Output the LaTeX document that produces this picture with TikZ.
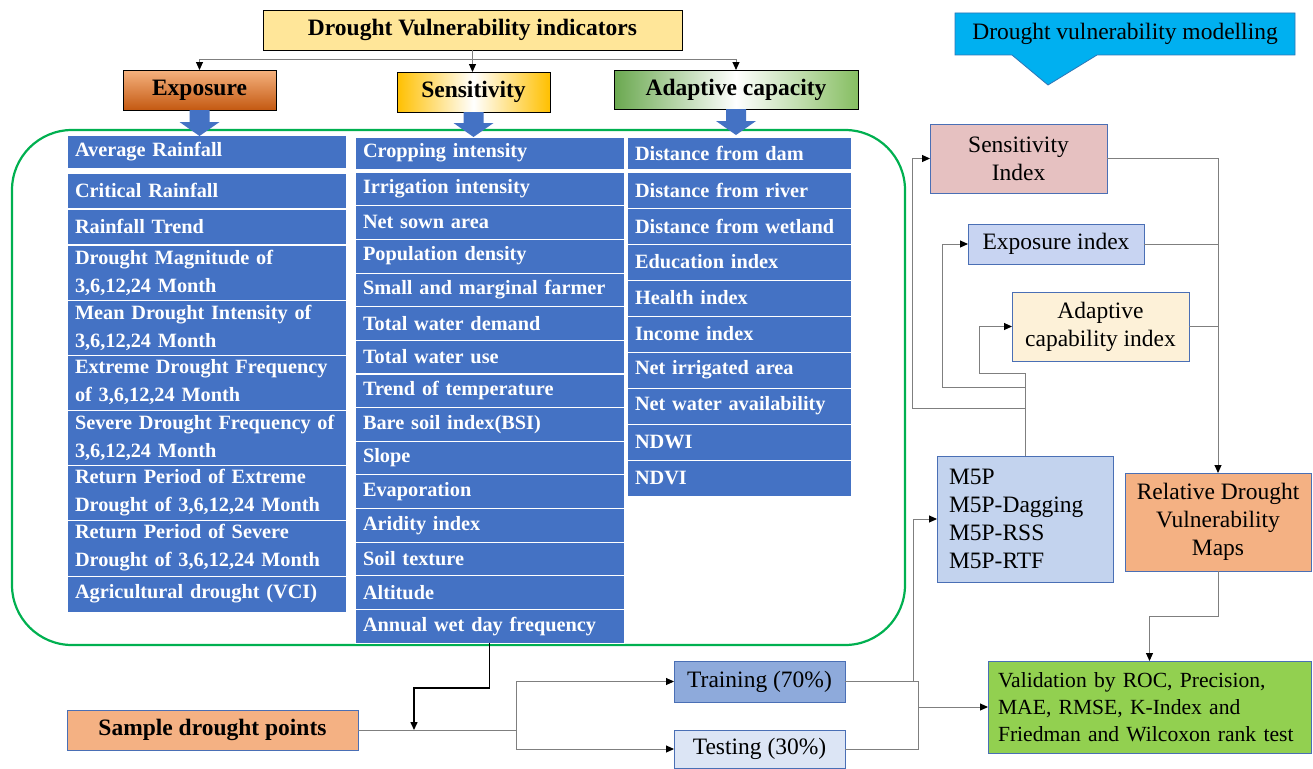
\documentclass[tikz,border=0pt]{standalone}
\usepackage{fontspec}
\setmainfont{Liberation Serif}
\usepackage{xcolor}
\usetikzlibrary{arrows.meta, positioning, calc}

\definecolor{hdryellow}{HTML}{FFE699}
\definecolor{expotop}{HTML}{F5B27F}
\definecolor{expobot}{HTML}{C45911}
\definecolor{sensgold}{HTML}{FFC000}
\definecolor{adapgreen}{HTML}{6AA84F}
\definecolor{adapright}{HTML}{86BE62}
\definecolor{cellblue}{HTML}{4472C4}
\definecolor{framegreen}{HTML}{00B050}
\definecolor{modelcyan}{HTML}{00B0F0}
\definecolor{modelborder}{HTML}{2E75B6}
\definecolor{sidxpink}{HTML}{E6C1C1}
\definecolor{eidxblue}{HTML}{C8D4F2}
\definecolor{aidxcream}{HTML}{FDF1D8}
\definecolor{m5pblue}{HTML}{C3D3EE}
\definecolor{mapsorange}{HTML}{F4B183}
\definecolor{validgreen}{HTML}{92D050}
\definecolor{trainblue}{HTML}{8EAADB}
\definecolor{testblue}{HTML}{DCE5F5}
\definecolor{boxblue}{HTML}{4A6FB5}
\definecolor{linegray}{HTML}{7F7F7F}

\newcommand{\lblfont}{\fontsize{23.5}{28}\selectfont}
\newcommand{\valfont}{\fontsize{21.6}{27}\selectfont}
\newcommand{\cellfont}{\fontsize{20.3}{28}\selectfont\bfseries}

\begin{document}
\begin{tikzpicture}[x=1pt, y=-1pt, >={Triangle[length=8pt, width=7pt, color=black]},
    hbox/.style={draw=black, line width=0.8pt, font=\lblfont\bfseries, inner sep=0pt, outer sep=0pt},
    cell/.style={fill=cellblue, draw=white, line width=0.8pt, text=white, font=\cellfont, anchor=north west, align=left, inner xsep=8pt, inner ysep=0pt, outer sep=0pt},
    ecell/.style={cell, minimum width=279pt, text width=263pt},
    scell/.style={cell, minimum width=269pt, text width=253pt, minimum height=33.6pt},
    acell/.style={cell, minimum width=224pt, text width=208pt, minimum height=36pt},
    rbox/.style={draw=boxblue, line width=1pt, font=\lblfont, align=center, inner sep=0pt, outer sep=0pt},
    conn/.style={draw=linegray, line width=1pt}]

    \useasboundingbox (0,0) rectangle (1313,768);
    \fill[white] (0,0) rectangle (1313,768);

    % Indicator headers
    \node (head) at (472.5,30) [hbox, fill=hdryellow, minimum width=419pt, minimum height=40pt] {Drought Vulnerability indicators};
    \node (expo) at (199.5,90) [hbox, top color=expotop, bottom color=expobot, minimum width=153pt, minimum height=40pt] {Exposure};
    \node (sens) at (473.5,92) [hbox, left color=sensgold, right color=sensgold, middle color=white, minimum width=153pt, minimum height=40pt] {Sensitivity};
    \node (adap) at (736,89.5) [hbox, left color=adapgreen, right color=adapright, middle color=white, minimum width=244pt, minimum height=39pt] {Adaptive capacity};

    \coordinate (hj) at (472.5,60);
    \draw[conn] (head.south) -- (hj);
    \draw[conn, ->] (hj) -| (expo.north);
    \draw[conn, ->] (hj) -| (adap.north);
    \draw[conn, ->] (hj) -- (hj |- sens.north);

    % Indicator frame
    \node (frame) at (458.5,387.5) [draw=framegreen, line width=2.2pt, rounded corners=60pt, minimum width=893pt, minimum height=515pt, inner sep=0pt] {};

    % Exposure indicators
    \node (e1) at (67,135) [ecell, minimum height=33pt] {Average Rainfall};
    \node (e2) at (67,173) [ecell, minimum height=35pt] {Critical Rainfall};
    \node (e3) at (67,209) [ecell, minimum height=35pt] {Rainfall Trend};
    \node (e4) at (67,245) [ecell, minimum height=55pt] {Drought Magnitude of\\3,6,12,24 Month};
    \node (e5) at (67,300) [ecell, minimum height=55pt] {Mean Drought Intensity of\\3,6,12,24 Month};
    \node (e6) at (67,355) [ecell, minimum height=55pt] {Extreme Drought Frequency\\of 3,6,12,24 Month};
    \node (e7) at (67,410) [ecell, minimum height=55pt] {Severe Drought Frequency of\\3,6,12,24 Month};
    \node (e8) at (67,465) [ecell, minimum height=55pt] {Return Period of Extreme\\Drought of 3,6,12,24 Month};
    \node (e9) at (67,520) [ecell, minimum height=56pt] {Return Period of Severe\\Drought of 3,6,12,24 Month};
    \node (e10) at (67,576) [ecell, minimum height=36pt] {Agricultural drought (VCI)};

    % Sensitivity indicators
    \node (s1) at (355,137) [scell, minimum height=32pt] {Cropping intensity};
    \node (s2) at (355,172) [scell] {Irrigation intensity};
    \node (s3) at (355,205.6) [scell] {Net sown area};
    \node (s4) at (355,239.3) [scell] {Population density};
    \node (s5) at (355,272.9) [scell] {Small and marginal farmer};
    \node (s6) at (355,306.6) [scell] {Total water demand};
    \node (s7) at (355,340.2) [scell] {Total water use};
    \node (s8) at (355,373.9) [scell] {Trend of temperature};
    \node (s9) at (355,407.5) [scell] {Bare soil index(BSI)};
    \node (s10) at (355,441.1) [scell] {Slope};
    \node (s11) at (355,474.8) [scell] {Evaporation};
    \node (s12) at (355,508.4) [scell] {Aridity index};
    \node (s13) at (355,542.0) [scell] {Soil texture};
    \node (s14) at (355,575.7) [scell] {Altitude};
    \node (s15) at (355,609.3) [scell] {Annual wet day frequency};

    % Adaptive capacity indicators
    \node (a1) at (627,137) [acell, minimum height=32pt] {Distance from dam};
    \node (a2) at (627,172) [acell] {Distance from river};
    \node (a3) at (627,208) [acell] {Distance from wetland};
    \node (a4) at (627,244) [acell] {Education index};
    \node (a5) at (627,280) [acell] {Health index};
    \node (a6) at (627,316) [acell] {Income index};
    \node (a7) at (627,352) [acell] {Net irrigated area};
    \node (a8) at (627,388) [acell] {Net water availability};
    \node (a9) at (627,424) [acell] {NDWI};
    \node (a10) at (627,460) [acell] {NDVI};

    % Block arrows into the frame
    \fill[cellblue] ($(expo.south)+(-10,0)$) -- ++(20,0) -- ++(0,12) -- ++(10,0) -- ++(-20,14) -- ++(-20,-14) -- ++(10,0) -- cycle;
    \fill[cellblue] ($(sens.south)+(-10,0)$) -- ++(20,0) -- ++(0,11) -- ++(10,0) -- ++(-20,14) -- ++(-20,-14) -- ++(10,0) -- cycle;
    \fill[cellblue] ($(adap.south)+(-10,0)$) -- ++(20,0) -- ++(0,12) -- ++(10,0) -- ++(-20,14) -- ++(-20,-14) -- ++(10,0) -- cycle;

    % Modelling side
    \filldraw[fill=modelcyan, draw=modelborder, line width=0.8pt] (955,13) -- (1295,13) -- (1295,55) -- (1097,55) -- (1048,85) -- (1012,55) -- (955,55) -- cycle;
    \node (model) at (1125,34) [font=\lblfont] {Drought vulnerability modelling};

    \node (sidx) at (1018.5,158.5) [rbox, fill=sidxpink, minimum width=177pt, minimum height=69pt] {Sensitivity\\Index};
    \node (eidx) at (1056,244) [rbox, fill=eidxblue, minimum width=176pt, minimum height=40pt] {Exposure index};
    \node (aidx) at (1100.5,326.5) [rbox, fill=aidxcream, minimum width=177pt, minimum height=69pt] {Adaptive\\capability index};
    \node (m5p) at (1025,519) [rbox, fill=m5pblue, minimum width=176pt, minimum height=126pt, align=left, text width=152pt, inner xsep=12pt] {M5P\\M5P-Dagging\\M5P-RSS\\M5P-RTF};
    \node (maps) at (1218,522) [rbox, fill=mapsorange, minimum width=186pt, minimum height=98pt] {Relative Drought\\Vulnerability\\Maps};
    \node (valid) at (1149.5,707) [rbox, fill=validgreen, minimum width=323pt, minimum height=92pt, align=left, text width=303pt, inner xsep=10pt, font=\valfont] {Validation by ROC, Precision,\\MAE, RMSE, K-Index and\\Friedman and Wilcoxon rank test};

    % Sampling
    \node (sample) at (212.5,730) [rbox, fill=mapsorange, minimum width=291pt, minimum height=40pt, font=\lblfont\bfseries] {Sample drought points};
    \node (train) at (759.5,681.5) [rbox, fill=trainblue, minimum width=171pt, minimum height=41pt] {Training (70\%)};
    \node (test) at (759.5,749) [rbox, fill=testblue, minimum width=171pt, minimum height=38pt] {Testing (30\%)};

    % Connectors
    \coordinate (sj) at (414,730);
    \coordinate (bj) at (516,730);
    \coordinate (vj) at (918,707);
    \coordinate (mj) at (913,681);
    \draw[black, line width=1.5pt, ->] (s15.south) -- (s15.south |- 0,688) -| (sj);
    \draw[conn] (sample.east) -- (bj);
    \draw[conn, ->] (bj) |- (train.west);
    \draw[conn, ->] (bj) |- (test.west);
    \draw[conn] (train.east) -| (vj) |- (test.east);
    \draw[conn, ->] (vj) -- (valid.west);
    \draw[conn, ->] (mj) |- (m5p.west);

    \draw[conn] (m5p.north) -- (m5p.north |- 0,373);
    \draw[conn, ->] (m5p.north |- 0,373) -- (979,373) |- (aidx.west);
    \draw[conn, ->] (m5p.north |- 0,387) -- (942,387) |- (eidx.west);
    \draw[conn, ->] (m5p.north |- 0,408) -- (912,408) |- (sidx.west);

    \draw[conn, ->] (sidx.east) -| (maps.north);
    \draw[conn] (eidx.east) -- (eidx.east -| maps.north);
    \draw[conn] (aidx.east) -- (aidx.east -| maps.north);
    \draw[conn, ->] (maps.south) -- ++(0,45) -| (valid.north);
\end{tikzpicture}
\end{document}
